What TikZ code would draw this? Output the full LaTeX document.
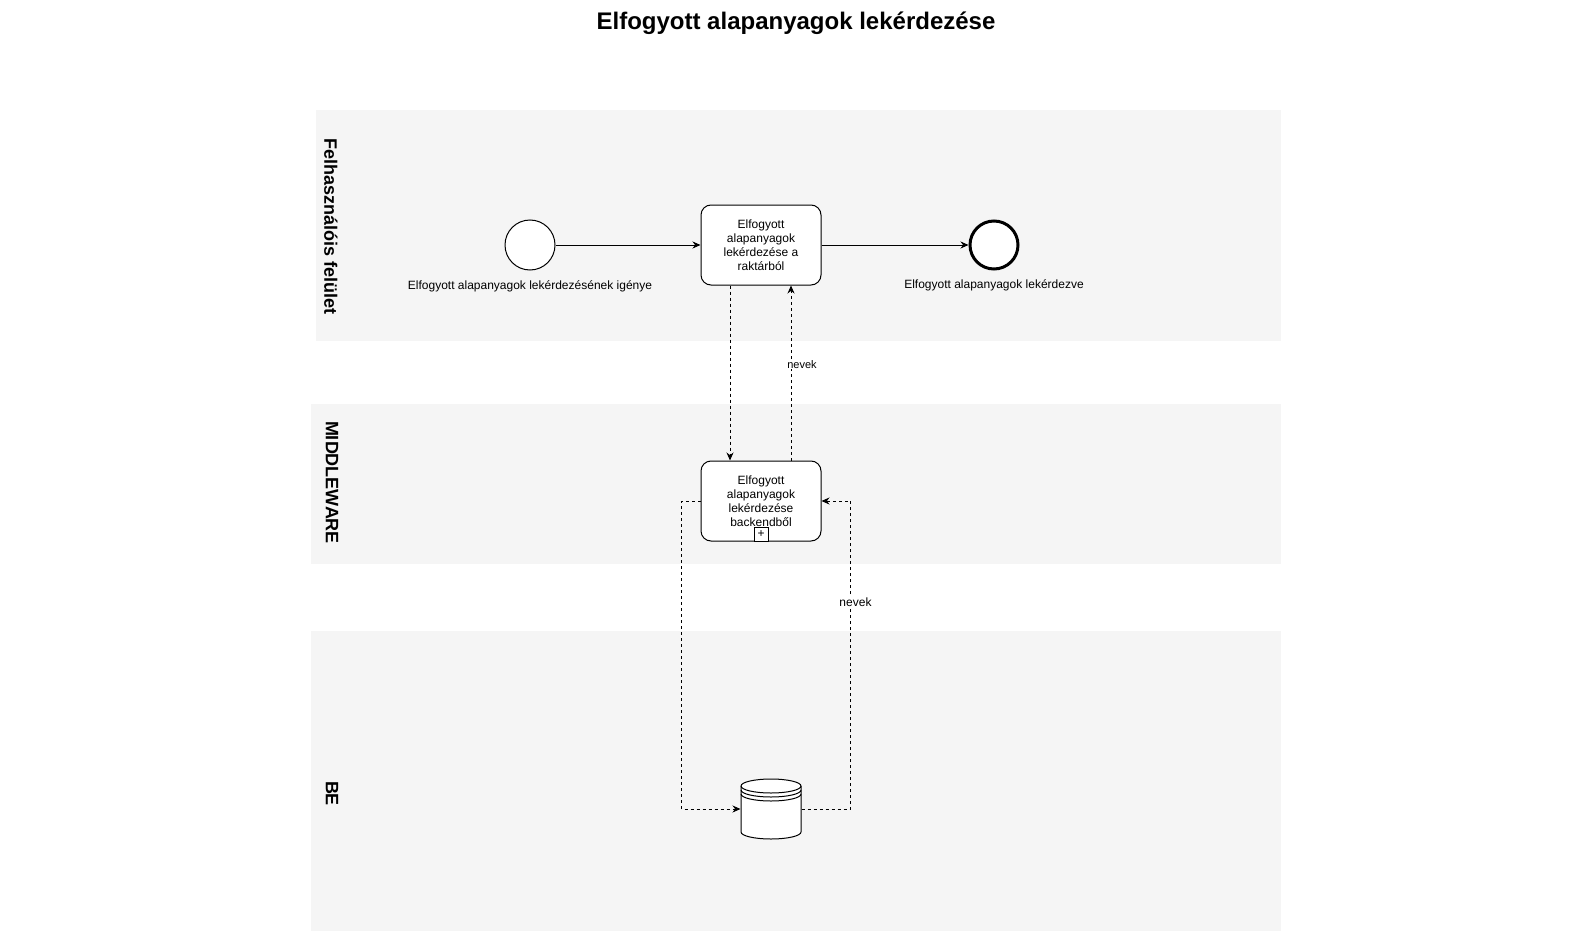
\documentclass[tikz,border=0pt]{standalone}
\usepackage{fontspec}
\setmainfont{Liberation Sans}
\usetikzlibrary{positioning}
\usetikzlibrary{arrows.meta}
\usetikzlibrary{calc}
\definecolor{lanegray}{HTML}{F5F5F5}

\begin{document}
\begin{tikzpicture}[
            x = 1pt, y = -1pt, % pixel grid of the reference
            > = {Stealth[length=8pt,width=7pt]}, % arrow head style
            line width = 1pt, % line style
            font = \fontsize{12}{14}\selectfont
            ]

        \tikzstyle{event}=[
            draw,
            circle,
            fill = white,
            minimum size = 50pt,
            inner sep = 0pt
        ]
        \tikzstyle{task}=[
            draw,
            rounded corners = 10pt,
            fill = white,
            minimum width = 120pt,
            minimum height = 80pt,
            align = center,
            inner sep = 2pt
        ]
        \tikzstyle{lane}=[fill = lanegray, anchor = north west, inner sep = 0pt]
        \tikzstyle{lanelabel}=[rotate = -90, font = \bfseries\fontsize{18}{21}\selectfont]
        \tikzstyle{flow}=[dash pattern = on 3pt off 3pt]
        \tikzstyle{lbl}=[inner sep = 1pt]

        \useasboundingbox (0,0) rectangle (1591,931);

        % title
        \node[font = \bfseries\fontsize{24}{28}\selectfont] (TT) at (796,23) {Elfogyott alapanyagok lekérdezése};

        % lanes
        \node[lane, minimum width = 965pt, minimum height = 230pt] (L1) at (315,110) {};
        \node[lane, minimum width = 970pt, minimum height = 160pt] (L2) at (310,403) {};
        \node[lane, minimum width = 970pt, minimum height = 300pt] (L3) at (310,630) {};

        \node[lanelabel] (N1) at ($(L1.west)+(16,1)$) {Felhasználóis felület};
        \node[lanelabel] (N2) at ($(L2.west)+(22,-1)$) {MIDDLEWARE};
        \node[lanelabel] (N3) at ($(L3.west)+(22,13)$) {BE};

        % user interface
        \node[event] (S) at (530,245) {};
        \node[lbl] (SL) [below = 9pt of S] {Elfogyott alapanyagok lekérdezésének igénye};

        \node[task] (T1) [right = 145pt of S] {Elfogyott\\alapanyagok\\lekérdezése a\\raktárból};

        \node[event, line width = 3pt, minimum size = 48pt] (E) [right = 147pt of T1] {};
        \node[lbl] (EL) [below = 8pt of E] {Elfogyott alapanyagok lekérdezve};

        \draw[->] (S) -- (T1);
        \draw[->] (T1) -- (E);

        % middleware
        \node[task] (T2) [below = 175pt of T1] {Elfogyott\\alapanyagok\\lekérdezése\\backendből};
        \node[draw, fill = white, anchor = south, minimum size = 14pt, inner sep = 0pt] (M) at (T2.south) {+};

        \draw[->, flow] ([xshift = -31pt]T1.south) -- ([xshift = -31pt]T2.north);
        \draw[->, flow] ([xshift = 30pt]T2.north) -- node[lbl, fill = white, pos = 0.55, xshift = 11pt, font = \fontsize{11}{13}\selectfont] {nevek} ([xshift = 30pt]T1.south);

        % backend
        \node[minimum width = 60pt, minimum height = 60pt, inner sep = 0pt] (DB) at (771,809) {};
        \draw[fill = white] ($(DB.center)+(-30,-23)$) -- ($(DB.center)+(-30,23)$)
            arc[start angle = 180, end angle = 360, x radius = 30pt, y radius = 7pt]
            -- ($(DB.center)+(30,-23)$)
            arc[start angle = 0, end angle = 180, x radius = 30pt, y radius = 7pt] -- cycle;
        \foreach \dy in {-23,-19,-15}
            \draw ($(DB.center)+(-30,\dy)$) arc[start angle = 180, end angle = 360, x radius = 30pt, y radius = 7pt];

        \draw[->, flow] (T2.west) -- ++(-19,0) |- (DB.west);
        \draw[->, flow] (DB.east) -- ++(49,0) |- node[lbl, fill = white, pos = 0.336, xshift = 5pt] {nevek} (T2.east);

  \end{tikzpicture}
\end{document}
